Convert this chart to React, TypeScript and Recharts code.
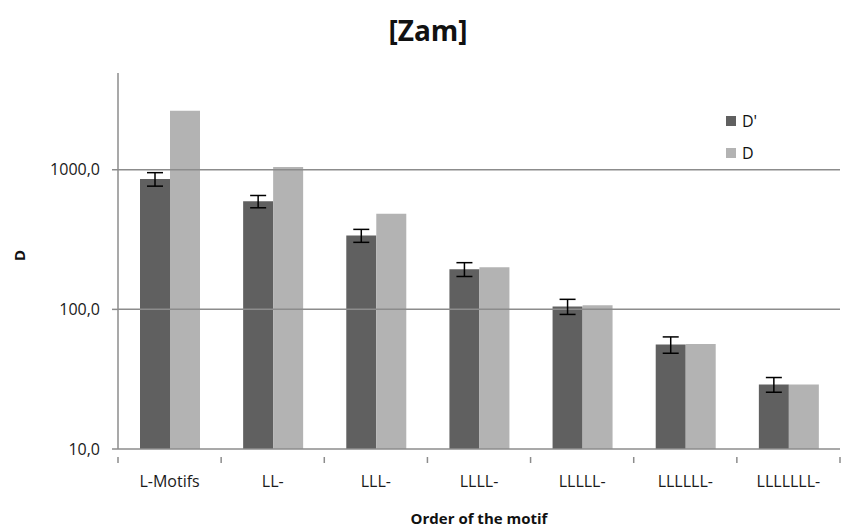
import React from 'react';
import { BarChart, Bar, XAxis, YAxis, ErrorBar, ReferenceLine } from 'recharts';

const categories = ['L-Motifs', 'LL-', 'LLL-', 'LLLL-', 'LLLLL-', 'LLLLLL-', 'LLLLLLL-'];
const dPrimeValues = [858, 594, 338, 194, 105, 56, 29];
const dPrimeErrors = [95, 60, 36, 22, 13, 7.5, 3.5];
const dValues = [2640, 1045, 483, 200, 107, 56.5, 29];
const yTicks = [10, 100, 1000];

const data = categories.map((name, i) => ({
  name,
  dPrime: dPrimeValues[i],
  dPrimeErr: dPrimeErrors[i],
  d: dValues[i],
}));

const WIDTH = 842;
const HEIGHT = 528;
const Y_AXIS_WIDTH = 118;
const RIGHT = 2;
const BAND = (WIDTH - Y_AXIS_WIDTH - RIGHT) / categories.length;
const FONT = '"Open Sans", Lato, sans-serif';
const DARK = '#606060';
const LIGHT = '#b3b3b3';
const AXIS = '#8c8c8c';

const formatTick = (v: number) => `${v},0`;

const CategoryTick = (props: any) => {
  const { x, y, payload, index } = props;
  return (
    <g>
      <line x1={x - BAND / 2} x2={x - BAND / 2} y1={y} y2={y + 6} stroke={AXIS} strokeWidth={1.5} />
      {index === categories.length - 1 && (
        <line x1={x + BAND / 2} x2={x + BAND / 2} y1={y} y2={y + 6} stroke={AXIS} strokeWidth={1.5} />
      )}
      <text x={x} y={y + 30} textAnchor="middle" fontFamily={FONT} fontSize={16} fill="#1a1a1a">
        {payload.value}
      </text>
    </g>
  );
};

const legendItems = [
  { label: "D'", color: DARK },
  { label: 'D', color: LIGHT },
];

export default function App() {
  return (
    <div style={{ position: 'relative', width: WIDTH, height: HEIGHT, background: '#fff' }}>
      <style>{'body{margin:0}'}</style>
      <div
        style={{
          position: 'absolute',
          left: 0,
          width: 856,
          top: 11,
          textAlign: 'center',
          fontFamily: FONT,
          fontWeight: 700,
          fontSize: 28,
          color: '#111',
        }}
      >
        [Zam]
      </div>
      <div
        style={{
          position: 'absolute',
          left: 726,
          top: 105,
          fontFamily: FONT,
          fontSize: 16,
          color: '#111',
          lineHeight: '32px',
          zIndex: 2,
        }}
      >
        {legendItems.map((item) => (
          <div key={item.label} style={{ display: 'flex', alignItems: 'center' }}>
            <span
              style={{ display: 'inline-block', width: 10, height: 10, background: item.color, marginRight: 6 }}
            />
            <span>{item.label}</span>
          </div>
        ))}
      </div>
      <BarChart
        width={WIDTH}
        height={HEIGHT}
        data={data}
        margin={{ top: 73, right: RIGHT, bottom: 0, left: 0 }}
        barGap={0}
        barCategoryGap={22}
      >
        <XAxis
          dataKey="name"
          height={79}
          stroke={AXIS}
          strokeWidth={1.5}
          tickLine={false}
          tick={<CategoryTick />}
          interval={0}
          label={{
            value: 'Order of the motif',
            position: 'insideBottom',
            offset: 4,
            fontFamily: FONT,
            fontWeight: 700,
            fontSize: 15,
            fill: '#111',
          }}
        />
        <YAxis
          scale="log"
          domain={[10, 4930]}
          allowDataOverflow
          ticks={yTicks}
          tickFormatter={formatTick}
          width={Y_AXIS_WIDTH}
          stroke={AXIS}
          strokeWidth={1.5}
          tickSize={6}
          tickMargin={12}
          tick={{ fontFamily: FONT, fontSize: 16, fill: '#1a1a1a' }}
          label={{
            value: 'D',
            angle: -90,
            position: 'insideLeft',
            offset: 20,
            fontFamily: FONT,
            fontWeight: 700,
            fontSize: 15,
            fill: '#111',
          }}
        />
        {yTicks.slice(1).map((t) => (
          <ReferenceLine key={t} y={t} stroke={AXIS} strokeWidth={1.5} />
        ))}
        <Bar dataKey="dPrime" name="D'" fill={DARK} isAnimationActive={false}>
          <ErrorBar dataKey="dPrimeErr" direction="y" width={8} stroke="#000" strokeWidth={1.5} />
        </Bar>
        <Bar dataKey="d" name="D" fill={LIGHT} isAnimationActive={false} />
      </BarChart>
    </div>
  );
}
